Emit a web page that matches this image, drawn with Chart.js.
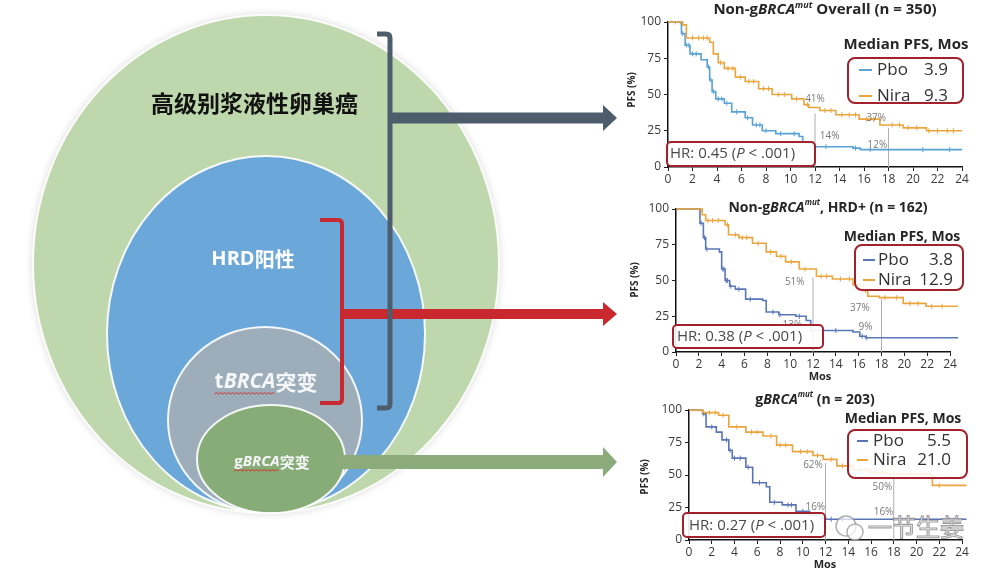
<!DOCTYPE html>
<html>
<head>
<meta charset="utf-8">
<script src="https://cdn.jsdelivr.net/npm/chart.js@4.4.0/dist/chart.umd.min.js"></script>
<style>
body { margin: 0; background: #fff; }
#wrap { position: relative; width: 1000px; height: 576px; overflow: hidden; }
canvas { position: absolute; }
</style>
</head>
<body>
<div id="wrap">
  <canvas id="diagram" width="620" height="576" style="left:0;top:0"></canvas>
  <canvas id="km1" width="380" height="190" style="left:620px;top:0"></canvas>
  <canvas id="km2" width="380" height="190" style="left:620px;top:190px"></canvas>
  <canvas id="km3" width="380" height="196" style="left:620px;top:380px"></canvas>
</div>
<script>
// ---- data ----
const xTicks = [0, 2, 4, 6, 8, 10, 12, 14, 16, 18, 20, 22, 24];
const yTicks = [0, 25, 50, 75, 100];
const refMonths = [12, 18];

// Non-gBRCAmut overall (n = 350)
const niraT1 = [0, 1.2, 1.5, 3.4, 3.7, 4.1, 4.6, 5.5, 6.3, 7.4, 8.5, 10.1, 11.1, 11.5, 12.4, 13.7, 15.6, 17.3, 19.2, 21.1, 24];
const niraS1 = [100, 98, 89, 86, 78, 72, 68, 62, 59, 54, 50, 47, 43, 41, 39, 36, 33, 29, 27, 25, 25];
const pboT1 = [0, 1.1, 1.4, 1.8, 2.7, 3.2, 3.4, 3.6, 3.9, 4.6, 5.2, 6.3, 6.9, 7.7, 8.8, 10.7, 11.0, 11.8, 15.1, 15.7, 24];
const pboS1 = [100, 92, 84, 78, 74, 69, 60, 52, 47, 44, 38, 34, 29, 25, 23, 21, 17, 14, 13, 12, 12];
const niraC1 = [0.6, 1.0, 2.0, 2.5, 2.9, 3.2, 4.3, 4.9, 5.3, 5.9, 6.6, 7.0, 7.8, 8.2, 9.0, 9.5, 10.5, 11.4, 12.8, 13.3, 14.2, 14.8, 15.3, 16.2, 16.8, 18.3, 18.9, 19.6, 20.3, 21.3, 22.0, 22.8, 23.3];
const pboC1 = [1.2, 1.5, 1.7, 2.0, 2.3, 3.3, 3.5, 3.7, 4.1, 4.4, 4.8, 5.6, 6.5, 7.2, 7.5, 8.0, 9.2, 10.3, 12.9, 15.3, 16.5, 20.8, 23.0];
const refTop1 = [37, 27];
const pctText1 = ['41%', '14%', '37%', '12%'];
const pctX1 = [12.0, 13.2, 17.0, 17.1];
const pctY1 = [47, 21, 34, 15];
const median1 = ['3.9', '9.3'];
const hr1 = '0.45';

// Non-gBRCAmut, HRD+ (n = 162)
const niraT2 = [0, 2.3, 2.6, 4.3, 4.6, 5.5, 6.7, 7.9, 8.8, 9.6, 10.8, 12.3, 13.7, 15.5, 16.4, 16.8, 17.8, 19.9, 21.9, 24.7];
const niraS2 = [100, 96, 92, 89, 82, 80, 76, 70, 67, 63, 58, 53, 51, 47, 43, 39, 38, 34, 32, 32];
const pboT2 = [0, 2.1, 2.4, 2.6, 3.8, 4.0, 4.3, 4.7, 5.2, 6.1, 7.6, 7.9, 9.0, 10.5, 11.4, 11.8, 15.5, 16.1, 16.6, 24.7];
const pboS2 = [100, 90, 80, 72, 70, 58, 50, 46, 44, 37, 36, 28, 26, 25, 22, 15, 14, 11, 10, 10];
const niraC2 = [2.2, 2.8, 3.2, 3.7, 4.5, 5.2, 5.8, 6.2, 7.2, 8.3, 9.2, 10.1, 11.3, 12.7, 13.2, 14.4, 15.2, 16.6, 18.3, 19.3, 20.5, 21.2, 22.4, 23.3, 24.2];
const pboC2 = [2.2, 2.5, 2.7, 4.1, 4.2, 4.4, 4.5, 4.8, 5.5, 6.5, 8.5, 9.1, 10.8, 14.0, 16.3, 16.7];
const refTop2 = [52, 37];
const pctText2 = ['51%', '37%', '13%', '9%'];
const pctX2 = [10.4, 16.1, 10.2, 16.6];
const pctY2 = [49, 31, 19, 17.5];
const median2 = ['3.8', '12.9'];
const hr2 = '0.38';

// gBRCAmut (n = 203)
const niraT3 = [0, 1.2, 2.6, 3.5, 5.0, 6.5, 7.7, 9.1, 10.9, 11.8, 13.0, 14.4, 15.9, 17.4, 21.2, 21.4, 24.4];
const niraS3 = [100, 98, 96, 87, 83, 80, 73, 68, 65, 62, 57, 54, 52, 51, 50, 42, 42];
const pboT3 = [0, 1.2, 1.5, 2.4, 2.9, 3.5, 3.8, 5.0, 5.6, 6.8, 7.1, 8.2, 9.4, 10.6, 11.5, 12.0, 24.4];
const pboS3 = [100, 97, 87, 83, 77, 69, 63, 56, 44, 41, 29, 27, 22, 19, 17, 16, 16];
const niraC3 = [1.8, 2.3, 3.0, 4.2, 5.5, 6.0, 7.2, 8.0, 8.5, 9.8, 10.4, 11.3, 12.5, 13.5, 14.2, 15.0, 15.5, 16.3, 17.0, 18.0, 18.8, 19.5, 20.5, 22.0];
const pboC3 = [1.3, 2.0, 3.3, 3.6, 4.0, 4.5, 5.2, 6.2, 7.5, 8.7, 9.0, 10.0, 11.0, 12.5, 13.5];
const refTop3 = [59, 49];
const pctText3 = ['62%', '50%', '16%', '16%'];
const pctX3 = [10.9, 17.0, 11.1, 17.1];
const pctY3 = [57.7, 40.8, 25.4, 21.5];
const median3 = ['5.5', '21.0'];
const hr3 = '0.27';

// left diagram labels
const groupLabels = ['高级别浆液性卵巢癌', 'HRD阳性', 'BRCA', '突变'];

// ---- helpers ----
const SANS = '"Open Sans", "Liberation Sans", Arial, sans-serif';
const CJK = '"Noto Sans CJK SC", "Noto Sans", sans-serif';
const orange = '#eba53c';

function series(times, vals) {
  return times.map((t, i) => ({ x: t, y: vals[i] }));
}
function stepAt(times, vals, t) {
  let v = vals[0];
  for (let i = 0; i < times.length; i++) {
    if (times[i] <= t) v = vals[i];
  }
  return v;
}
function censors(cens, times, vals) {
  return cens.map(t => ({ x: t, y: stepAt(times, vals, t) }));
}

// draws a list of text runs [{t, f, dy}] one after another
function drawRuns(ctx, runs, x, y, align, color) {
  let total = 0;
  runs.forEach(r => { ctx.font = r.f; r.w = ctx.measureText(r.t).width; total += r.w; });
  let cx = align === 'center' ? x - total / 2 : (align === 'right' ? x - total : x);
  ctx.textAlign = 'left';
  ctx.textBaseline = 'middle';
  ctx.fillStyle = color;
  runs.forEach(r => {
    ctx.font = r.f;
    ctx.fillText(r.t, cx, y + (r.dy || 0));
    r.x0 = cx;
    cx += r.w;
  });
  return runs;
}

function squiggle(ctx, x0, x1, y) {
  ctx.save();
  ctx.strokeStyle = '#d0312d';
  ctx.lineWidth = 1;
  ctx.beginPath();
  let up = true;
  ctx.moveTo(x0, y);
  for (let x = x0 + 2; x <= x1; x += 2) {
    ctx.lineTo(x, up ? y - 1.5 : y);
    up = !up;
  }
  ctx.stroke();
  ctx.restore();
}

function roundBox(ctx, x, y, w, h, r) {
  ctx.beginPath();
  ctx.roundRect(x, y, w, h, r);
}

// ---- left diagram ----
const ovals = [
  { cx: 266, cy: 264, rx: 233, ry: 249, fill: '#bfd7ac' },
  { cx: 266, cy: 334, rx: 159, ry: 178, fill: '#6ba7d9' },
  { cx: 265, cy: 420, rx: 97, ry: 93, fill: '#9dadba' },
  { cx: 271, cy: 459, rx: 74, ry: 54, fill: '#87ac77' }
];

function arrow(ctx, px, py, x0, x1, yc, h, head, color) {
  const tip = px(x1), base = px(x1 - 14);
  ctx.fillStyle = color;
  ctx.fillRect(px(x0), py(yc) - h / 2, base - px(x0) + 1, h);
  ctx.beginPath();
  ctx.moveTo(base, py(yc) - head);
  ctx.lineTo(tip, py(yc));
  ctx.lineTo(base, py(yc) + head);
  ctx.closePath();
  ctx.fill();
}

function bracket(ctx, px, py, xl, xr, yt, yb, color, lw) {
  ctx.strokeStyle = color;
  ctx.lineWidth = lw;
  ctx.lineJoin = 'round';
  ctx.beginPath();
  ctx.moveTo(px(xl), py(yt));
  ctx.lineTo(px(xr) - 4, py(yt));
  ctx.quadraticCurveTo(px(xr), py(yt), px(xr), py(yt) + 4);
  ctx.lineTo(px(xr), py(yb) - 4);
  ctx.quadraticCurveTo(px(xr), py(yb), px(xr) - 4, py(yb));
  ctx.lineTo(px(xl), py(yb));
  ctx.stroke();
}

const diagramPlugin = {
  id: 'diagram',
  beforeDatasetsDraw(chart) {
    const { ctx, scales: { x, y } } = chart;
    const px = v => x.getPixelForValue(v);
    const py = v => y.getPixelForValue(v);
    ctx.save();
    ovals.forEach((o, i) => {
      ctx.save();
      if (i === 0) { ctx.shadowColor = 'rgba(0,0,0,0.18)'; ctx.shadowBlur = 8; }
      ctx.beginPath();
      ctx.ellipse(px(o.cx), py(o.cy), o.rx, o.ry, 0, 0, Math.PI * 2);
      ctx.fillStyle = o.fill;
      ctx.fill();
      ctx.restore();
      ctx.strokeStyle = 'rgba(255,255,255,0.9)';
      ctx.lineWidth = 2;
      ctx.stroke();
    });

    // labels
    ctx.textAlign = 'left';
    ctx.textBaseline = 'middle';
    ctx.fillStyle = '#111';
    ctx.font = 'bold 23px ' + CJK;
    ctx.fillText(groupLabels[0], px(151), py(103));

    drawRuns(ctx, [
      { t: 'HRD', f: 'bold 20px ' + SANS },
      { t: '阳性', f: 'bold 20px ' + CJK }
    ], px(253), py(259), 'center', '#ffffff');

    let r = drawRuns(ctx, [
      { t: 't', f: 'bold 21px ' + SANS },
      { t: groupLabels[2], f: 'italic bold 21px ' + SANS },
      { t: groupLabels[3], f: 'bold 21px ' + CJK }
    ], px(266), py(382), 'center', '#f4f6f8');
    squiggle(ctx, r[0].x0, r[1].x0 + r[1].w, py(394));

    r = drawRuns(ctx, [
      { t: 'g', f: 'bold 15px ' + SANS },
      { t: groupLabels[2], f: 'italic bold 15px ' + SANS },
      { t: groupLabels[3], f: 'bold 15px ' + CJK }
    ], px(272), py(462), 'center', '#f4f6f8');
    squiggle(ctx, r[0].x0, r[1].x0 + r[1].w, py(471));

    // arrows and brackets
    arrow(ctx, px, py, 335, 617, 462, 14, 15, '#8bab7b');
    bracket(ctx, px, py, 320, 342, 220, 403, '#c8282e', 4);
    arrow(ctx, px, py, 342, 617, 314, 10, 12, '#c8282e');
    bracket(ctx, px, py, 377, 390, 34, 408, '#4e5d6c', 5);
    arrow(ctx, px, py, 390, 617, 118, 11, 13, '#4e5d6c');
    ctx.restore();
  }
};

new Chart(document.getElementById('diagram'), {
  type: 'scatter',
  data: { datasets: [{ data: [] }] },
  options: {
    responsive: false,
    animation: false,
    layout: { padding: 0 },
    plugins: { legend: { display: false }, tooltip: { enabled: false } },
    scales: {
      x: { type: 'linear', min: 0, max: 620, display: false },
      y: { type: 'linear', min: 0, max: 576, reverse: true, display: false }
    }
  },
  plugins: [diagramPlugin]
});

// ---- KM panels ----
function titleRuns(prefix, suffix, size) {
  const runs = [];
  if (prefix) runs.push({ t: prefix, f: 'bold ' + size + 'px ' + SANS });
  runs.push({ t: 'g', f: 'bold ' + size + 'px ' + SANS });
  runs.push({ t: 'BRCA', f: 'italic bold ' + size + 'px ' + SANS });
  runs.push({ t: 'mut', f: 'italic bold ' + Math.round(size * 0.6) + 'px ' + SANS, dy: -5 });
  runs.push({ t: suffix, f: 'bold ' + size + 'px ' + SANS });
  return runs;
}

const panels = [
  {
    id: 'km1', nira: [niraT1, niraS1], pbo: [pboT1, pboS1], niraC: niraC1, pboC: pboC1,
    refTop: refTop1, pct: [pctText1, pctX1, pctY1], median: median1, hr: hr1,
    pboColor: '#58a3d6',
    title: titleRuns('Non-', ' Overall (n = 350)', 15), titleX: 205, titleY: 10,
    pad: { left: 48, right: 38, top: 22, bottom: 23 },
    yTitle: [12, 90], xTitle: null,
    medLabel: [286, 45, 15], box: [228, 58, 115, 45], rows: [70, 96], dash: [239, 252], lab: 257, val: 328,
    hrBox: [47, 142, 148, 24], hrText: [50, 154]
  },
  {
    id: 'km2', nira: [niraT2, niraS2], pbo: [pboT2, pboS2], niraC: niraC2, pboC: pboC2,
    refTop: refTop2, pct: [pctText2, pctX2, pctY2], median: median2, hr: hr2,
    pboColor: '#5a78b8',
    title: titleRuns('Non-', ', HRD+ (n = 162)', 14), titleX: 208, titleY: 18,
    pad: { left: 56, right: 50, top: 19, bottom: 28 },
    yTitle: [15, 90], xTitle: [200, 187],
    medLabel: [282, 47, 14], box: [235, 55, 108, 45], rows: [70, 90], dash: [243, 255], lab: 258, val: 333,
    hrBox: [53, 135, 150, 23], hrText: [57, 147]
  },
  {
    id: 'km3', nira: [niraT3, niraS3], pbo: [pboT3, pboS3], niraC: niraC3, pboC: pboC3,
    refTop: refTop3, pct: [pctText3, pctX3, pctY3], median: median3, hr: hr3,
    pboColor: '#5b74b6',
    title: titleRuns('', ' (n = 203)', 14), titleX: 195, titleY: 20,
    pad: { left: 69, right: 38, top: 30, bottom: 36 },
    yTitle: [25, 97], xTitle: [205, 185],
    medLabel: [283, 39, 14], box: [228, 50, 119, 48], rows: [61, 80], dash: [237, 248], lab: 253, val: 331,
    hrBox: [63, 133, 142, 24], hrText: [69, 146],
    watermark: true
  }
];

function kmDecor(p) {
  return {
    id: 'kmDecor',
    afterDatasetsDraw(chart) {
      const { ctx, scales: { x, y } } = chart;
      ctx.save();
      // percent labels
      ctx.font = '10px ' + SANS;
      ctx.fillStyle = '#7a7a7a';
      ctx.textAlign = 'center';
      ctx.textBaseline = 'middle';
      p.pct[0].forEach((t, i) => ctx.fillText(t, x.getPixelForValue(p.pct[1][i]), y.getPixelForValue(p.pct[2][i])));

      // title
      drawRuns(ctx, p.title, p.titleX, p.titleY, 'center', '#262626');

      // axis titles
      ctx.save();
      ctx.translate(p.yTitle[0], p.yTitle[1]);
      ctx.rotate(-Math.PI / 2);
      ctx.font = 'bold 10px ' + SANS;
      ctx.fillStyle = '#262626';
      ctx.textAlign = 'center';
      ctx.textBaseline = 'middle';
      ctx.fillText('PFS (%)', 0, 0);
      ctx.restore();
      if (p.xTitle) {
        ctx.font = 'bold 11px ' + SANS;
        ctx.fillStyle = '#262626';
        ctx.textAlign = 'center';
        ctx.fillText('Mos', p.xTitle[0], p.xTitle[1]);
      }

      // median PFS block
      ctx.font = 'bold ' + p.medLabel[2] + 'px ' + SANS;
      ctx.fillStyle = '#262626';
      ctx.textAlign = 'center';
      ctx.fillText('Median PFS, Mos', p.medLabel[0], p.medLabel[1]);
      roundBox(ctx, p.box[0], p.box[1], p.box[2], p.box[3], 7);
      ctx.fillStyle = 'rgba(255,255,255,0.85)';
      ctx.fill();
      ctx.strokeStyle = '#a1222c';
      ctx.lineWidth = 2;
      ctx.stroke();
      [['Pbo', p.pboColor], ['Nira', orange]].forEach((row, i) => {
        const ry = p.rows[i];
        ctx.strokeStyle = row[1];
        ctx.lineWidth = 2;
        ctx.beginPath();
        ctx.moveTo(p.dash[0], ry);
        ctx.lineTo(p.dash[1], ry);
        ctx.stroke();
        ctx.font = '17px ' + SANS;
        ctx.fillStyle = '#333';
        ctx.textAlign = 'left';
        ctx.fillText(row[0], p.lab, ry);
        ctx.textAlign = 'right';
        ctx.fillText(p.median[i], p.val, ry);
      });

      // HR box
      roundBox(ctx, p.hrBox[0], p.hrBox[1], p.hrBox[2], p.hrBox[3], 4);
      ctx.fillStyle = 'rgba(255,255,255,0.9)';
      ctx.fill();
      ctx.strokeStyle = '#a1222c';
      ctx.lineWidth = 2;
      ctx.stroke();
      drawRuns(ctx, [
        { t: 'HR: ' + p.hr + ' (', f: '15px ' + SANS },
        { t: 'P', f: 'italic 15px ' + SANS },
        { t: ' < .001)', f: '15px ' + SANS }
      ], p.hrText[0], p.hrText[1], 'left', '#4a4a4a');

      if (p.watermark) {
        ctx.strokeStyle = 'rgba(150,150,150,0.75)';
        ctx.lineWidth = 1.5;
        ctx.fillStyle = 'rgba(255,255,255,0.7)';
        ctx.beginPath();
        ctx.arc(226, 146, 10, 0, Math.PI * 2);
        ctx.fill();
        ctx.stroke();
        ctx.beginPath();
        ctx.arc(235, 152, 8, 0, Math.PI * 2);
        ctx.fill();
        ctx.stroke();
        ctx.font = '24px ' + CJK;
        ctx.textAlign = 'left';
        ctx.lineWidth = 1.2;
        ctx.fillStyle = 'rgba(255,255,255,0.75)';
        ctx.strokeStyle = 'rgba(120,120,120,0.7)';
        ctx.fillText('一节生姜', 248, 147);
        ctx.strokeText('一节生姜', 248, 147);
      }
      ctx.restore();
    }
  };
}

panels.forEach(p => {
  const datasets = [
    { data: series(p.nira[0], p.nira[1]), borderColor: orange, borderWidth: 1.6, stepped: true, pointRadius: 0, order: 1, clip: 20 },
    { data: series(p.pbo[0], p.pbo[1]), borderColor: p.pboColor, borderWidth: 1.6, stepped: true, pointRadius: 0, order: 1, clip: 20 },
    { data: censors(p.niraC, p.nira[0], p.nira[1]), showLine: false, pointStyle: 'line', rotation: 90, pointRadius: 2.5, borderColor: orange, borderWidth: 1, order: 2 },
    { data: censors(p.pboC, p.pbo[0], p.pbo[1]), showLine: false, pointStyle: 'line', rotation: 90, pointRadius: 2.5, borderColor: p.pboColor, borderWidth: 1, order: 2 }
  ];
  refMonths.forEach((m, i) => {
    datasets.push({ data: [{ x: m, y: 0 }, { x: m, y: p.refTop[i] }], borderColor: '#a9b0b6', borderWidth: 1, pointRadius: 0, order: 5 });
  });

  new Chart(document.getElementById(p.id), {
    type: 'line',
    data: { datasets },
    options: {
      responsive: false,
      animation: false,
      layout: { padding: { left: 0, right: p.pad.right, top: p.pad.top, bottom: 0 } },
      plugins: { legend: { display: false }, tooltip: { enabled: false } },
      scales: {
        x: {
          type: 'linear', min: 0, max: 24,
          afterBuildTicks: s => { s.ticks = xTicks.map(v => ({ value: v })); },
          afterFit: s => { s.height = p.pad.bottom; },
          grid: { display: true, drawOnChartArea: false, drawTicks: true, tickLength: 4, color: '#222' },
          border: { display: true, color: '#111', width: 1.5 },
          ticks: { font: { family: SANS, size: 12 }, color: '#3a3a3a', padding: 1, maxRotation: 0, autoSkip: false }
        },
        y: {
          type: 'linear', min: 0, max: 100,
          afterBuildTicks: s => { s.ticks = yTicks.map(v => ({ value: v })); },
          afterFit: s => { s.width = p.pad.left; },
          grid: { display: true, drawOnChartArea: false, drawTicks: true, tickLength: 4, color: '#222' },
          border: { display: true, color: '#111', width: 1.5 },
          ticks: { font: { family: SANS, size: 12 }, color: '#3a3a3a', padding: 3 }
        }
      }
    },
    plugins: [kmDecor(p)]
  });
});
</script>
</body>
</html>
